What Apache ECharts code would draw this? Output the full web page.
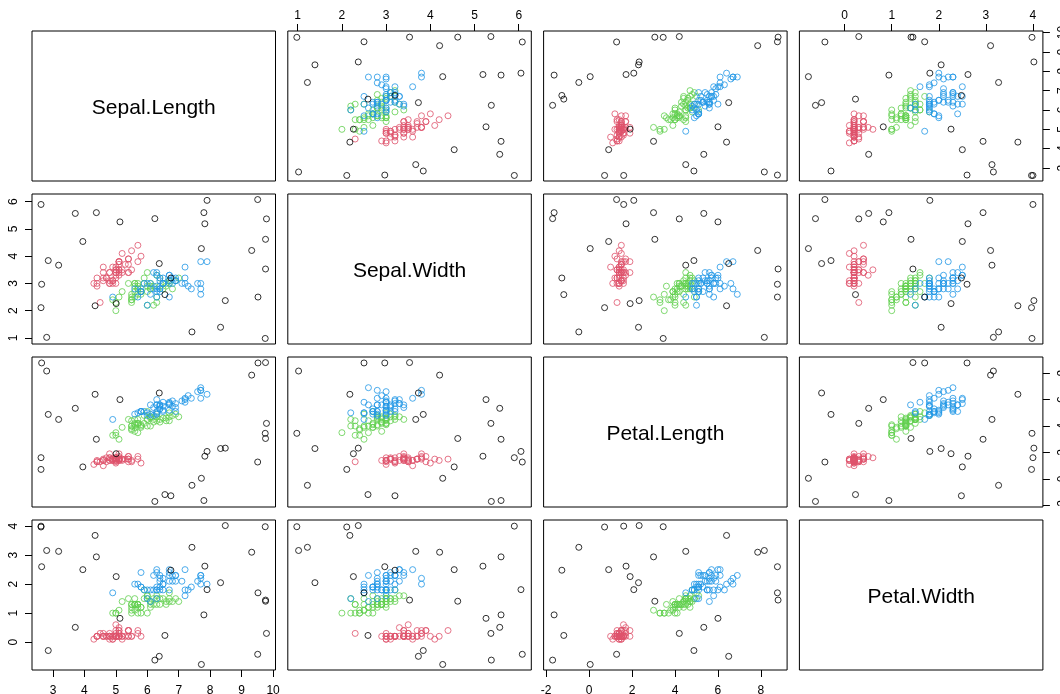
<!DOCTYPE html>
<html>
<head>
<meta charset="utf-8">
<script src="https://cdn.jsdelivr.net/npm/echarts@6/dist/echarts.min.js"></script>
<style>
html,body{margin:0;padding:0;background:#fff;}
#chart{width:1060px;height:694px;}
</style>
</head>
<body>
<div id="chart"></div>
<script>
// ---- data: iris measurements ----
const varNames = ['Sepal.Length', 'Sepal.Width', 'Petal.Length', 'Petal.Width'];
const speciesNames = ['setosa', 'versicolor', 'virginica'];
const speciesCounts = [50, 50, 50];
const speciesColors = ['#DF536B', '#61D04F', '#2297E6'];
const outlierColor = '#000000';

const sepalLength = [5.1,4.9,4.7,4.6,5.0,5.4,4.6,5.0,4.4,4.9,5.4,4.8,4.8,4.3,5.8,5.7,5.4,5.1,5.7,5.1,5.4,5.1,4.6,5.1,4.8,5.0,5.0,5.2,5.2,4.7,4.8,5.4,5.2,5.5,4.9,5.0,5.5,4.9,4.4,5.1,5.0,4.5,4.4,5.0,5.1,4.8,5.1,4.6,5.3,5.0,
7.0,6.4,6.9,5.5,6.5,5.7,6.3,4.9,6.6,5.2,5.0,5.9,6.0,6.1,5.6,6.7,5.6,5.8,6.2,5.6,5.9,6.1,6.3,6.1,6.4,6.6,6.8,6.7,6.0,5.7,5.5,5.5,5.8,6.0,5.4,6.0,6.7,6.3,5.6,5.5,5.5,6.1,5.8,5.0,5.6,5.7,5.7,6.2,5.1,5.7,
6.3,5.8,7.1,6.3,6.5,7.6,4.9,7.3,6.7,7.2,6.5,6.4,6.8,5.7,5.8,6.4,6.5,7.7,7.7,6.0,6.9,5.6,7.7,6.3,6.7,7.2,6.2,6.1,6.4,7.2,7.4,7.9,6.4,6.3,6.1,7.7,6.3,6.4,6.0,6.9,6.7,6.9,5.8,6.8,6.7,6.7,6.3,6.5,6.2,5.9];
const sepalWidth = [3.5,3.0,3.2,3.1,3.6,3.9,3.4,3.4,2.9,3.1,3.7,3.4,3.0,3.0,4.0,4.4,3.9,3.5,3.8,3.8,3.4,3.7,3.6,3.3,3.4,3.0,3.4,3.5,3.4,3.2,3.1,3.4,4.1,4.2,3.1,3.2,3.5,3.6,3.0,3.4,3.5,2.3,3.2,3.5,3.8,3.0,3.8,3.2,3.7,3.3,
3.2,3.2,3.1,2.3,2.8,2.8,3.3,2.4,2.9,2.7,2.0,3.0,2.2,2.9,2.9,3.1,3.0,2.7,2.2,2.5,3.2,2.8,2.5,2.8,2.9,3.0,2.8,3.0,2.9,2.6,2.4,2.4,2.7,2.7,3.0,3.4,3.1,2.3,3.0,2.5,2.6,3.0,2.6,2.3,2.7,3.0,2.9,2.9,2.5,2.8,
3.3,2.7,3.0,2.9,3.0,3.0,2.5,2.9,2.5,3.6,3.2,2.7,3.0,2.5,2.8,3.2,3.0,3.8,2.6,2.2,3.2,2.8,2.8,2.7,3.3,3.2,2.8,3.0,2.8,3.0,2.8,3.8,2.8,2.8,2.6,3.0,3.4,3.1,3.0,3.1,3.1,3.1,2.7,3.2,3.3,3.0,2.5,3.0,3.4,3.0];
const petalLength = [1.4,1.4,1.3,1.5,1.4,1.7,1.4,1.5,1.4,1.5,1.5,1.6,1.4,1.1,1.2,1.5,1.3,1.4,1.7,1.5,1.7,1.5,1.0,1.7,1.9,1.6,1.6,1.5,1.4,1.6,1.6,1.5,1.5,1.4,1.5,1.2,1.3,1.4,1.3,1.5,1.3,1.3,1.3,1.6,1.9,1.4,1.6,1.4,1.5,1.4,
4.7,4.5,4.9,4.0,4.6,4.5,4.7,3.3,4.6,3.9,3.5,4.2,4.0,4.7,3.6,4.4,4.5,4.1,4.5,3.9,4.8,4.0,4.9,4.7,4.3,4.4,4.8,5.0,4.5,3.5,3.8,3.7,3.9,5.1,4.5,4.5,4.7,4.4,4.1,4.0,4.4,4.6,4.0,3.3,4.2,4.2,4.2,4.3,3.0,4.1,
6.0,5.1,5.9,5.6,5.8,6.6,4.5,6.3,5.8,6.1,5.1,5.3,5.5,5.0,5.1,5.3,5.5,6.7,6.9,5.0,5.7,4.9,6.7,4.9,5.7,6.0,4.8,4.9,5.6,5.8,6.1,6.4,5.6,5.1,5.6,6.1,5.6,5.5,4.8,5.4,5.6,5.1,5.1,5.9,5.7,5.2,5.0,5.2,5.4,5.1];
const petalWidth = [0.2,0.2,0.2,0.2,0.2,0.4,0.3,0.2,0.2,0.1,0.2,0.2,0.1,0.1,0.2,0.4,0.4,0.3,0.3,0.3,0.2,0.4,0.2,0.5,0.2,0.2,0.4,0.2,0.2,0.2,0.2,0.4,0.1,0.2,0.2,0.2,0.2,0.1,0.2,0.2,0.3,0.3,0.2,0.6,0.4,0.3,0.2,0.2,0.2,0.2,
1.4,1.5,1.5,1.3,1.5,1.3,1.6,1.0,1.3,1.4,1.0,1.5,1.0,1.4,1.3,1.4,1.5,1.0,1.5,1.1,1.8,1.3,1.5,1.2,1.3,1.4,1.4,1.7,1.5,1.0,1.1,1.0,1.2,1.6,1.5,1.6,1.5,1.3,1.3,1.3,1.2,1.4,1.2,1.0,1.3,1.2,1.3,1.3,1.1,1.3,
2.5,1.9,2.1,1.8,2.2,2.1,1.7,1.8,1.8,2.5,2.0,1.9,2.1,2.0,2.4,2.3,1.8,2.2,2.3,1.5,2.3,2.0,2.0,1.8,2.1,1.8,1.8,1.8,2.1,1.6,1.9,2.0,2.2,1.5,1.4,2.3,2.4,1.8,1.8,2.1,2.4,2.3,1.9,2.3,2.5,2.3,1.9,2.0,2.3,1.8];

// ---- outlier rows (black) ----
const outSL = [2.62,2.62,4.34,2.80,3.18,4.38,2.64,3.95,5.01,5.13,3.71,2.85,8.48,9.75,7.42,9.32,7.83,6.75,8.33,7.90,9.52,9.76,9.76,7.80,6.56,9.79,6.24,6.38,7.72,9.51];
const outSW = [2.11,5.90,2.18,1.02,3.67,5.60,2.97,4.54,2.26,5.26,5.57,3.84,2.37,0.98,1.22,4.21,5.19,3.20,1.39,6.05,2.50,3.53,4.62,5.60,2.59,5.37,5.38,3.73,4.28,6.08];
const outPL = [0.72,1.61,6.40,8.16,4.50,3.00,8.77,0.91,1.91,6.00,5.34,4.88,2.33,3.45,-0.48,7.85,1.72,-1.27,2.30,2.08,8.77,8.80,3.06,-1.63,-1.18,4.20,-1.70,6.50,0.05,1.28];
const outPW = [3.97,4.00,3.68,3.16,3.13,2.94,2.60,2.50,2.26,0.82,0.51,-0.29,4.02,3.98,3.27,3.10,2.62,2.48,2.05,1.81,1.70,1.45,1.41,0.94,0.23,0.30,-0.62,-0.49,-0.77,-0.42];

// ---- tick labels ----
const ticksSL = [3,4,5,6,7,8,9,10];
const ticksSW = [1,2,3,4,5,6];
const ticksPL = [-2,0,2,4,6,8];
const ticksPW = [0,1,2,3,4];

// ---- build ----
const vars = [sepalLength, sepalWidth, petalLength, petalWidth];
const outs = [outSL, outSW, outPL, outPW];
const ticks = [ticksSL, ticksSW, ticksPL, ticksPW];

const ranges = vars.map((v, k) => {
  const all = v.concat(outs[k]);
  const lo = Math.min(...all), hi = Math.max(...all);
  const pad = 0.04 * (hi - lo);
  return [lo - pad, hi + pad];
});

const FONT = '"Liberation Sans", Arial, Helvetica, sans-serif';
const L0 = 32, T0 = 31, W = 243.5, H = 150, PX = 255.8, PY = 163;

const grids = [], xAxes = [], yAxes = [], series = [], graphics = [];
let gi = 0;
for (let i = 0; i < 4; i++) {
  for (let j = 0; j < 4; j++) {
    const left = L0 + j * PX, top = T0 + i * PY;
    grids.push({left: left, top: top, width: W, height: H, show: true,
      borderColor: '#000', borderWidth: 1, backgroundColor: 'transparent',
      containLabel: false, outerBoundsMode: 'none'});
    const showBottom = (i === 3 && (j === 0 || j === 2));
    const showTop = (i === 0 && (j === 1 || j === 3));
    const showLeft = (j === 0 && (i === 1 || i === 3));
    const showRight = (j === 3 && (i === 0 || i === 2));
    const xr = ranges[j], yr = ranges[i];
    xAxes.push({gridIndex: gi, type: 'value', min: xr[0], max: xr[1],
      position: showTop ? 'top' : 'bottom',
      splitLine: {show: false}, axisLine: {show: false, onZero: false},
      axisTick: {show: showBottom || showTop, length: 7, lineStyle: {color: '#000'}, customValues: ticks[j]},
      axisLabel: {show: showBottom || showTop, customValues: ticks[j], margin: showTop ? 9 : 15,
        color: '#000', fontSize: 12, fontFamily: FONT}
    });
    yAxes.push({gridIndex: gi, type: 'value', min: yr[0], max: yr[1],
      position: showRight ? 'right' : 'left',
      splitLine: {show: false}, axisLine: {show: false, onZero: false},
      axisTick: {show: showLeft || showRight, length: 7, lineStyle: {color: '#000'}, customValues: ticks[i]},
      axisLabel: {show: showLeft || showRight, customValues: ticks[i], rotate: 90, margin: showRight ? 14 : 12,
        color: '#000', fontSize: 12, fontFamily: FONT}
    });
    if (i === j) {
      graphics.push({type: 'text', x: left + W / 2, y: top + H / 2 + 2, silent: true,
        style: {text: varNames[i], fill: '#000', font: '21px ' + FONT,
          align: 'center', verticalAlign: 'middle', textAlign: 'center', textVerticalAlign: 'middle'}});
    } else {
      let start = 0;
      for (let s = 0; s < speciesNames.length; s++) {
        const pts = [];
        for (let r = start; r < start + speciesCounts[s]; r++) pts.push([vars[j][r], vars[i][r]]);
        start += speciesCounts[s];
        series.push({type: 'scatter', name: speciesNames[s], xAxisIndex: gi, yAxisIndex: gi, data: pts,
          symbol: 'circle', symbolSize: 6, silent: true, animation: false,
          itemStyle: {color: 'rgba(0,0,0,0)', borderColor: speciesColors[s], borderWidth: 1}});
      }
      const op = outs[j].map((v, r) => [v, outs[i][r]]);
      series.push({type: 'scatter', name: 'outlier', xAxisIndex: gi, yAxisIndex: gi, data: op,
        symbol: 'circle', symbolSize: 6, silent: true, animation: false,
        itemStyle: {color: 'rgba(0,0,0,0)', borderColor: outlierColor, borderWidth: 1}});
    }
    gi++;
  }
}

const chart = echarts.init(document.getElementById('chart'), null, {renderer: 'canvas'});
chart.setOption({
  animation: false,
  backgroundColor: '#fff',
  grid: grids, xAxis: xAxes, yAxis: yAxes, series: series,
  graphic: graphics
});
</script>
</body>
</html>
